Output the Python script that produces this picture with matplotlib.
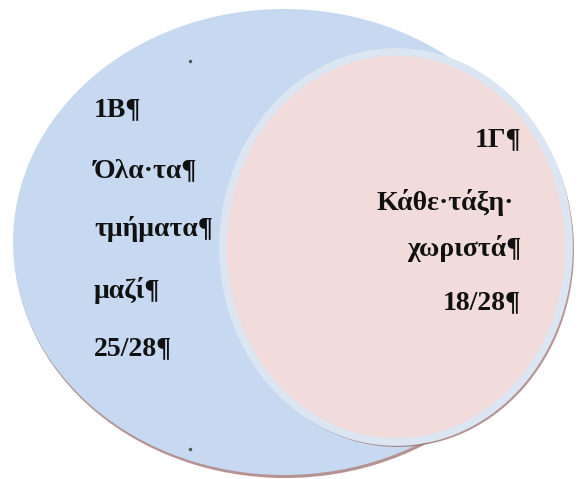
import matplotlib
matplotlib.use('Agg')
from matplotlib import pyplot as plt
from matplotlib.patches import Ellipse

# text of the two sets (Word formatting marks kept as in the picture)
left_lines = ['1Β¶', 'Όλα·τα¶', 'τμήματα¶', 'μαζί¶', '25/28¶']
right_lines = ['1Γ¶', 'Κάθε·τάξη·', 'χωριστά¶', '18/28¶']

blue_fill = '#c6d9f0'
pink_fill = '#f2dcdb'
rim = '#dce6f2'
shadow = '#9c6f6f'

fig = plt.figure(figsize=(5.79, 4.79), dpi=100)
ax = fig.add_axes([0, 0, 1, 1])
ax.set_xlim(0, 579)
ax.set_ylim(479, 0)
ax.axis('off')

# big set
ax.add_patch(Ellipse((285, 245), 542, 466, facecolor=shadow, edgecolor='none', alpha=0.75, zorder=1))
ax.add_patch(Ellipse((284, 242), 542, 466, facecolor=blue_fill, edgecolor='none', zorder=2))

# small set
ax.add_patch(Ellipse((398, 250), 352, 394, facecolor=shadow, edgecolor='none', alpha=0.75, zorder=3))
ax.add_patch(Ellipse((396, 247), 346, 390, facecolor=pink_fill, edgecolor=rim, linewidth=5.5, zorder=4))

# stray marks
ax.plot([190, 190], [61, 449], linestyle='none', marker='o', markersize=1.5, color='#555555', zorder=5)

font = dict(family='Liberation Serif', fontweight='bold', fontsize=20, color='#111111', zorder=6)

left_y = [110, 171, 229, 290, 349]
for txt, y in zip(left_lines, left_y):
    ax.text(94, y, txt, ha='left', va='center', **font)

right_x = [521, 514, 521, 521]
right_y = [140, 202, 248, 303]
for txt, x, y in zip(right_lines, right_x, right_y):
    ax.text(x, y, txt, ha='right', va='center', **font)

fig.savefig('out.png', dpi=100)
